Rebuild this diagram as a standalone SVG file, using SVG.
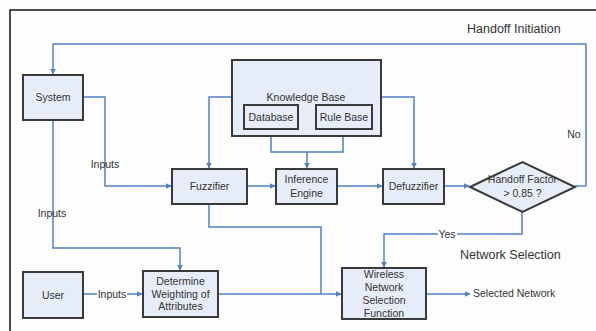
<svg xmlns="http://www.w3.org/2000/svg" width="596" height="331" viewBox="0 0 596 331">
<style>
.box{fill:#e7edf8;stroke:#3a3a3a;stroke-width:2}
.ln{fill:none;stroke:#4f81c7;stroke-width:1.5}
.t{font-family:"Liberation Sans",Arial,sans-serif;font-size:10.5px;fill:#333;text-anchor:middle;dominant-baseline:central}
.big{font-family:"Liberation Sans",Arial,sans-serif;font-size:12.5px;fill:#333;dominant-baseline:central}
</style>
<defs>
<marker id="ah" viewBox="0 0 10 10" refX="9" refY="5" markerWidth="6" markerHeight="6" markerUnits="userSpaceOnUse" orient="auto">
<path d="M0,0 L10,5 L0,10 z" fill="#4f81c7"/>
</marker>
</defs>
<rect width="596" height="331" fill="#fdfdfd"/>
<path d="M10,331 V10 H596" fill="none" stroke="#111" stroke-width="1.5"/>
<text class="big" x="467" y="29">Handoff Initiation</text>
<text class="big" x="460" y="255">Network Selection</text>

<g id="connectors">
<path class="ln" d="M586,186 V44 H53 V74" marker-end="url(#ah)"/>
<path class="ln" d="M83,97 H105 V186 H171" marker-end="url(#ah)"/>
<path class="ln" d="M53,120 V248 H180 V270" marker-end="url(#ah)"/>
<path class="ln" d="M83,294 H142" marker-end="url(#ah)"/>
<path class="ln" d="M218,294 H341" marker-end="url(#ah)"/>
<path class="ln" d="M209,204 V227 H321 V294"/>
<path class="ln" d="M247,186 H275" marker-end="url(#ah)"/>
<path class="ln" d="M337,186 H382" marker-end="url(#ah)"/>
<path class="ln" d="M444,186 H469" marker-end="url(#ah)"/>
<path class="ln" d="M575,186 H586"/>
<path class="ln" d="M522,212 V234 H384 V267" marker-end="url(#ah)"/>
<path class="ln" d="M426,294 H470" marker-end="url(#ah)"/>
<path class="ln" d="M232,97 H209 V168" marker-end="url(#ah)"/>
<path class="ln" d="M381,97 H414 V168" marker-end="url(#ah)"/>
<path class="ln" d="M271,129 V152 H343 V129"/>
<path class="ln" d="M307,152 V168" marker-end="url(#ah)"/>
<text class="t" x="105" y="164">Inputs</text>
<text class="t" x="52" y="213">Inputs</text>
<rect x="97" y="288" width="30" height="12" fill="#fdfdfd"/>
<text class="t" x="112" y="294">Inputs</text>
<rect x="438" y="228" width="19" height="12" fill="#fdfdfd"/>
<text class="t" x="447" y="234">Yes</text>
<text class="t" x="574" y="134">No</text>
<text class="t" x="473" y="293" style="text-anchor:start">Selected Network</text>
</g>

<g id="system"><rect class="box" x="23" y="75" width="60" height="45"/><text class="t" x="53" y="97">System</text></g>
<g id="user"><rect class="box" x="23" y="272" width="60" height="46"/><text class="t" x="53" y="295">User</text></g>
<g id="knowledge-base"><rect class="box" x="232" y="60" width="149" height="76"/><text class="t" x="306" y="97">Knowledge Base</text></g>
<g id="database"><rect class="box" x="244" y="105" width="54" height="24"/><text class="t" x="271" y="117">Database</text></g>
<g id="rule-base"><rect class="box" x="316" y="105" width="56" height="24"/><text class="t" x="344" y="117">Rule Base</text></g>
<g id="fuzzifier"><rect class="box" x="172" y="169" width="75" height="35"/><text class="t" x="209.5" y="186">Fuzzifier</text></g>
<g id="inference-engine"><rect class="box" x="276" y="169" width="61" height="35"/><text class="t" x="306.5" y="179">Inference</text><text class="t" x="306.5" y="193">Engine</text></g>
<g id="defuzzifier"><rect class="box" x="383" y="169" width="61" height="35"/><text class="t" x="413.5" y="186">Defuzzifier</text></g>
<g id="decision"><polygon class="box" points="470,187 522.5,162 575,187 522.5,212"/><text class="t" x="522.5" y="179">Handoff Factor</text><text class="t" x="522.5" y="193">&gt; 0.85 ?</text></g>
<g id="determine"><rect class="box" x="143" y="271" width="75" height="46"/><text class="t" x="180.5" y="281">Determine</text><text class="t" x="180.5" y="294">Weighting of</text><text class="t" x="180.5" y="306">Attributes</text></g>
<g id="wireless"><rect class="box" x="342" y="268" width="84" height="51"/><text class="t" x="384" y="274">Wireless</text><text class="t" x="384" y="287">Network</text><text class="t" x="384" y="300">Selection</text><text class="t" x="384" y="313">Function</text></g>
</svg>
